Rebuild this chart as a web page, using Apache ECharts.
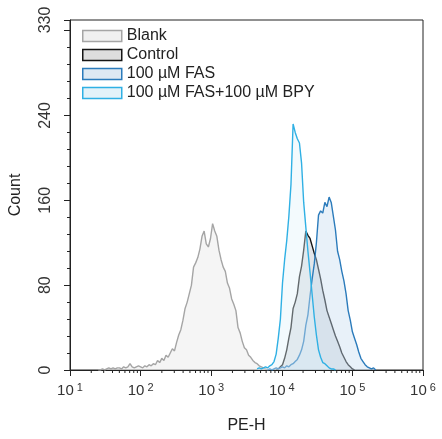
<!DOCTYPE html>
<html>
<head>
<meta charset="utf-8">
<script src="https://cdn.jsdelivr.net/npm/echarts@6/dist/echarts.min.js"></script>
<style>
html,body{margin:0;padding:0;background:#fff;}
#chart{width:442px;height:439px;}
</style>
</head>
<body>
<div id="chart"></div>
<script>
// ---- data (histogram counts on a log10 bin grid) ----
const binStepLog = 0.03;
const seriesNames = ['Blank', 'Control', '100 µM FAS', '100 µM FAS+100 µM BPY'];

const blankStartLog = 1.40;
const blankCounts = [
  0,0,1,0,1,2,1,2,1,2,
  2,1,3,2,3,6,3,2,3,4,
  3,2,4,3,5,4,6,5,9,7,
  11,9,14,12,16,20,18,26,33,38,
  47,58,64,72,80,97,101,106,114,126,
  131,119,116,124,138,131,126,113,104,97,
  93,82,77,67,62,56,40,35,27,21,
  19,14,12,9,7,6,4,3,2,1,0
];

const controlStartLog = 3.92;
const controlCounts = [
  0,1,3,5,11,19,30,40,58,64,
  72,88,98,113,131,127,124,117,110,104,
  95,86,75,66,56,50,44,38,32,27,
  22,16,12,8,5,3,1,0
];

const fasStartLog = 3.80;
const fasCounts = [
  0,1,0,1,2,1,2,3,2,4,
  3,5,6,8,10,14,19,27,42,52,
  70,86,100,120,146,150,148,158,154,163,
  158,145,132,112,104,93,84,72,56,47,
  36,30,24,17,11,8,5,3,2,1,2,0
];

const bpyStartLog = 3.65;
const bpyCounts = [
  1,2,1,2,3,2,4,5,8,15,
  30,48,82,104,122,145,175,232,224,218,
  214,195,158,135,112,92,71,50,33,19,
  12,7,6,4,2,1,1,0
];

const xMin = 10, xMax = 1e6;
const yMax = 330, yInterval = 80;
const xMinorTickValues = [];
for (let e = 1; e < 6; e++) for (let m = 2; m <= 9; m++) xMinorTickValues.push(m * Math.pow(10, e));

// ---- styles ----
const lineColors = ['#a5a5a5', '#151515', '#2b7bbb', '#2fb0e4'];
const fillColors = ['rgba(236,236,236,0.75)', 'rgba(185,192,202,0.6)', 'rgba(200,222,240,0.6)', 'rgba(225,243,251,0.55)'];
const legendFill = ['#f0f0f0', '#dedede', '#dde9f3', '#e3f2f9'];

function toData(start, counts) {
  return counts.map((c, i) => [Math.pow(10, start + i * binStepLog), c]);
}
const allData = [
  toData(blankStartLog, blankCounts),
  toData(controlStartLog, controlCounts),
  toData(fasStartLog, fasCounts),
  toData(bpyStartLog, bpyCounts)
];

const font = 'Liberation Sans, Arial, sans-serif';
const chart = echarts.init(document.getElementById('chart'), null, {renderer: 'canvas'});

const series = seriesNames.map((n, k) => ({
  name: n,
  type: 'line',
  data: allData[k],
  showSymbol: false,
  symbol: 'none',
  lineStyle: {color: lineColors[k], width: 1.4},
  itemStyle: {color: lineColors[k]},
  areaStyle: {color: fillColors[k], origin: 'start'},
  z: 2 + k,
  silent: true
}));

series.push({
  type: 'custom',
  data: xMinorTickValues.map(v => [v, 0]),
  clip: false,
  silent: true,
  z: 10,
  renderItem: function (params, api) {
    const p = api.coord([api.value(0), 0]);
    return {type: 'line', shape: {x1: p[0], y1: p[1], x2: p[0], y2: p[1] + 3}, style: {stroke: '#222', lineWidth: 1}};
  }
});

chart.setOption({
  animation: false,
  backgroundColor: '#fff',
  grid: {left: 70, right: 19, top: 20, bottom: 66, show: true, borderColor: '#222', borderWidth: 1, backgroundColor: 'transparent'},
  legend: {
    orient: 'vertical', left: 77, top: 23,
    itemWidth: 39, itemHeight: 11, itemGap: 3,
    textStyle: {fontFamily: font, fontSize: 16, color: '#222', lineHeight: 16},
    data: seriesNames.map((n, k) => ({
      name: n, icon: 'rect',
      itemStyle: {color: legendFill[k], borderColor: lineColors[k], borderWidth: 1.5}
    }))
  },
  xAxis: {
    type: 'log', logBase: 10, min: xMin, max: xMax, splitNumber: 5,
    name: 'PE-H', nameLocation: 'middle', nameGap: 48,
    nameTextStyle: {fontFamily: font, fontSize: 16, color: '#222'},
    axisLine: {lineStyle: {color: '#222', width: 1}},
    axisTick: {show: true, length: 6, inside: false, lineStyle: {color: '#222'}},
    splitLine: {show: false},
    axisLabel: {
      margin: 12,
      formatter: v => '{b|10}{s|' + Math.round(Math.log10(v)) + '}',
      rich: {
        b: {fontFamily: font, fontSize: 15, color: '#333'},
        s: {fontFamily: font, fontSize: 11, color: '#333', padding: [0, 0, 7, 3]}
      }
    }
  },
  yAxis: {
    type: 'value', min: 0, max: yMax, interval: yInterval,
    name: 'Count', nameLocation: 'middle', nameGap: 46, nameRotate: 90,
    nameTextStyle: {fontFamily: font, fontSize: 16, color: '#222'},
    axisLine: {show: true, lineStyle: {color: '#222', width: 1}},
    axisTick: {show: true, length: 6, inside: false, lineStyle: {color: '#222'}},
    minorTick: {show: true, splitNumber: 5, length: 3, lineStyle: {color: '#222'}},
    splitLine: {show: false},
    axisLabel: {
      rotate: 90, margin: 16, showMaxLabel: true, hideOverlap: false,
      fontFamily: font, fontSize: 16, color: '#333',
      formatter: v => (v === 320 ? '' : String(v))
    }
  },
  series: series
});
</script>
</body>
</html>
